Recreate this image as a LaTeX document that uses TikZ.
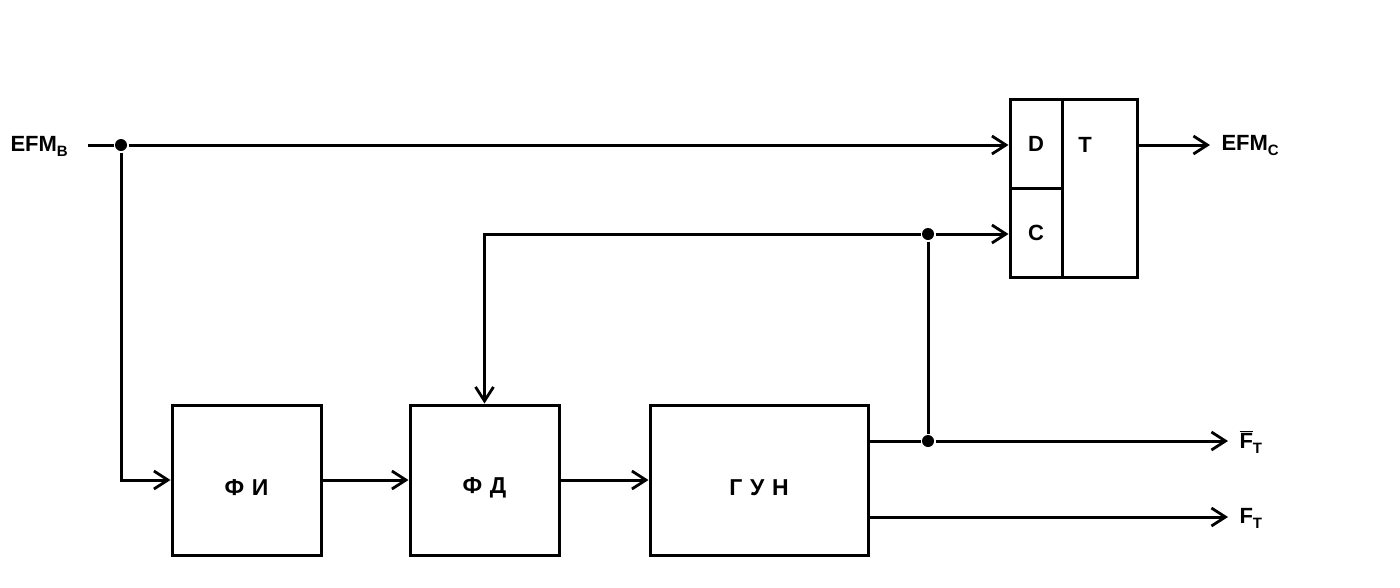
\documentclass[tikz,border=0pt]{standalone}
\usepackage{fontspec}
\setmainfont{Liberation Sans}
\usetikzlibrary{arrows.meta}
\begin{document}
\begin{tikzpicture}[x=1pt,y=-1pt,
  line width=3pt,
  blk/.style={draw,line width=3pt,inner sep=0pt,font=\fontsize{22}{24}\selectfont\bfseries},
  btxt/.style={inner sep=0pt,font=\fontsize{23}{25}\selectfont\bfseries},
  dot/.style={circle,fill,inner sep=0pt,minimum size=12pt},
  lbl/.style={inner sep=0pt,font=\fontsize{22}{24}\selectfont\bfseries},
  arr/.style={-{Straight Barb[length=14pt,width=18pt,line width=2.8pt]}},
  line join=miter]
\useasboundingbox (0,0) rectangle (1400,587);
\newcommand{\sbs}[1]{\raisebox{-5pt}{\fontsize{15}{16}\selectfont\bfseries #1}}
% blocks
\node[blk,minimum width=149pt,minimum height=150pt] (fi) at (246.5,480) {};
\node[blk,minimum width=149pt,minimum height=150pt] (fd) at (484.5,480) {};
\node[blk,minimum width=218pt,minimum height=150pt] (gun) at (759,480) {};
\node[btxt] (fit) at ([yshift=-8pt]fi.center) {Ф\,\,И};
\node[btxt] (fdt) at ([yshift=-8pt]fd.center) {Ф\,\,Д};
\node[btxt] (gunt) at ([yshift=-8pt]gun.center) {Г\,\,У\,\,Н};
% trigger
\node[blk,minimum width=52pt,minimum height=89pt] (d) at (1036,143.5) {D};
\node[blk,minimum width=52pt,minimum height=89pt] (c) at (1036,232.5) {C};
\node[blk,minimum width=75pt,minimum height=178pt] (t) at (1099.5,188) {};
\node[lbl] (tl) at (1085,145) {T};
% labels
\node[lbl,anchor=west] (efmb) at (9,146) {EFM\sbs{B}};
\node[lbl,anchor=west] (efmc) at (1220,146) {EFM\sbs{C}};
\node[lbl,anchor=west] (fbar) at (1238,442) {$\overline{\mbox{F}}$\sbs{T}};
\node[lbl,anchor=west] (ft) at (1238,518) {F\sbs{T}};
% junctions
\node[dot] (j1) at (121,145) {};
\node[dot] (j2) at (928,234) {};
\node[dot] (j3) at (928,441) {};
\coordinate (s0) at (88,145);
\coordinate (o1) at (1228,441);
\coordinate (o2) at (1228,517);
\coordinate (oc) at (1210,145);
% connectors
\draw (s0) -- (j1);
\draw[arr] (j1) -- (j1 -| d.west);
\draw[arr] (j1) |- (fi.west);
\draw[arr] (fi.east) -- (fd.west);
\draw[arr] (fd.east) -- (gun.west);
\draw (gun.east |- j3) -- (j3);
\draw[arr] (j3) -- (o1);
\draw[arr] (gun.east |- o2) -- (o2);
\draw (j3) -- (j2);
\draw[arr] (j2) -- (j2 -| c.west);
\draw[arr] (j2) -| (fd.north);
\draw[arr] (t.east |- oc) -- (oc);
\end{tikzpicture}
\end{document}
